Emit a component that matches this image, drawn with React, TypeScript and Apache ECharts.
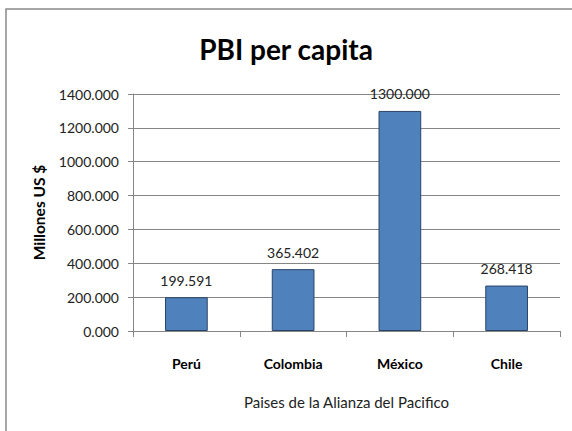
import React, { useEffect, useRef } from "react";
import * as echarts from "echarts";

const categories = ["Perú", "Colombia", "México", "Chile"];
const values = [199.591, 365.402, 1300.0, 268.418];
const yTicks = [0, 200, 400, 600, 800, 1000, 1200, 1400];

const FONT = "Lato, 'Open Sans', sans-serif";

export default function App() {
  const ref = useRef<HTMLDivElement>(null);
  useEffect(() => {
    if (!ref.current) return;
    const chart = echarts.init(ref.current, undefined, { renderer: "svg" });
    chart.setOption({
      animation: false,
      backgroundColor: "#ffffff",
      textStyle: { fontFamily: FONT },
      title: {
        text: "PBI per capita",
        left: "center",
        top: 30,
        textStyle: { fontFamily: FONT, fontSize: 28, fontWeight: "bold", color: "#000" },
      },
      graphic: [
        {
          type: "rect",
          shape: { x: 6, y: 9, width: 700, height: 600 },
          style: { fill: "none", stroke: "#8a8a8a", lineWidth: 1.5 },
          silent: true,
        },
      ],
      grid: { left: 133, top: 94, right: 12, bottom: 100, containLabel: false },
      xAxis: {
        type: "category",
        data: categories,
        name: "Paises de la Alianza del Pacifico",
        nameLocation: "middle",
        nameGap: 63,
        nameTextStyle: { fontFamily: FONT, fontSize: 15, color: "#222" },
        axisLine: { lineStyle: { color: "#868686", width: 1 } },
        axisTick: { show: true, length: 6, lineStyle: { color: "#868686" } },
        axisLabel: { margin: 25, fontFamily: FONT, fontSize: 14, fontWeight: "bold", color: "#000" },
      },
      yAxis: {
        type: "value",
        min: 0,
        max: yTicks[yTicks.length - 1],
        interval: 200,
        name: "Millones US $",
        nameLocation: "middle",
        nameGap: 86,
        nameTextStyle: { fontFamily: FONT, fontSize: 15.5, fontWeight: "bold", color: "#000" },
        axisLine: { show: true, lineStyle: { color: "#868686", width: 1 } },
        axisTick: { show: true, length: 5, lineStyle: { color: "#868686" } },
        splitLine: { show: true, lineStyle: { color: "#868686", width: 1 } },
        axisLabel: {
          margin: 14,
          fontFamily: FONT,
          fontSize: 14,
          color: "#222",
          formatter: (v: number) => v.toFixed(3),
        },
      },
      series: [
        {
          type: "bar",
          data: values,
          barWidth: "40%",
          itemStyle: { color: "#4F81BD", borderColor: "#2a4466", borderWidth: 1 },
          label: {
            show: true,
            position: "top",
            distance: 10,
            fontFamily: FONT,
            fontSize: 14,
            color: "#222",
            formatter: (p: any) => Number(p.value).toFixed(3),
          },
        },
      ],
    });
    return () => chart.dispose();
  }, []);
  return (
    <div
      ref={ref}
      style={{ position: "absolute", left: 0, top: 0, width: 572, height: 431 }}
    />
  );
}
